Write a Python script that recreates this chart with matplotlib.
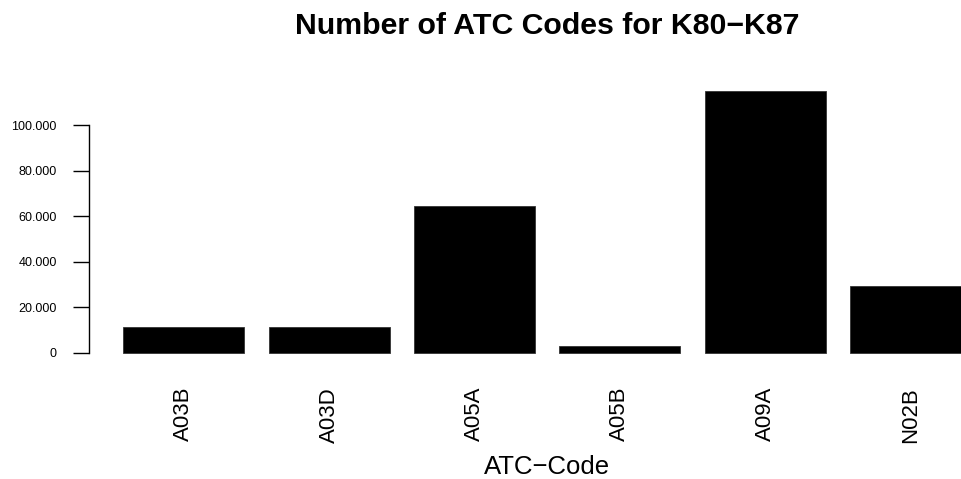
import matplotlib
matplotlib.use('Agg')
import matplotlib.pyplot as plt
import numpy as np

# data
codes = ['A03B', 'A03D', 'A05A', 'A05B', 'A09A', 'N02B']
counts = [11300, 11500, 64400, 3100, 115000, 29400]
yticks = [0, 20000, 40000, 60000, 80000, 100000]
ytick_labels = ['0', '20.000', '40.000', '60.000', '80.000', '100.000']

plt.rcParams['font.family'] = ['Liberation Sans', 'DejaVu Sans']

W, H = 962, 479
fig = plt.figure(figsize=(W / 100, H / 100), dpi=100)

# R-style barplot geometry: width 1, space 0.2, 4% padding
left_px, right_px = 89.4, 1005.0
top_px, bottom_px = 80.4, 363.2
ax = fig.add_axes([left_px / W, 1 - bottom_px / H,
                   (right_px - left_px) / W, (bottom_px - top_px) / H])

x = 0.2 + 1.2 * np.arange(len(codes)) + 0.5
ax.bar(x, counts, width=1.0, color='black', edgecolor='#333333', linewidth=0.6)

ax.set_xlim(-0.08, 7.48)
ymax = max(counts)
ax.set_ylim(-0.04 * ymax, 1.04 * ymax)

for s in ['top', 'right', 'bottom']:
    ax.spines[s].set_visible(False)
ax.spines['left'].set_bounds(0, 100000)
ax.spines['left'].set_linewidth(1.0)

ax.set_yticks(yticks)
ax.set_yticklabels(ytick_labels, fontsize=9)
ax.tick_params(axis='y', length=11.5, width=1.0, pad=12)

ax.set_xticks(x)
ax.set_xticklabels(codes, rotation=90, fontsize=16, va='top', ha='center')
ax.tick_params(axis='x', length=0, pad=17)

fig.text((left_px + right_px) / 2 / W, 1 - 26.5 / H, 'Number of ATC Codes for K80\u2212K87',
         ha='center', va='center', fontsize=21.8, fontweight='bold')
fig.text((left_px + right_px) / 2 / W, 1 - 467 / H, 'ATC\u2212Code',
         ha='center', va='center', fontsize=18.5)

fig.savefig('out.png', dpi=100)
